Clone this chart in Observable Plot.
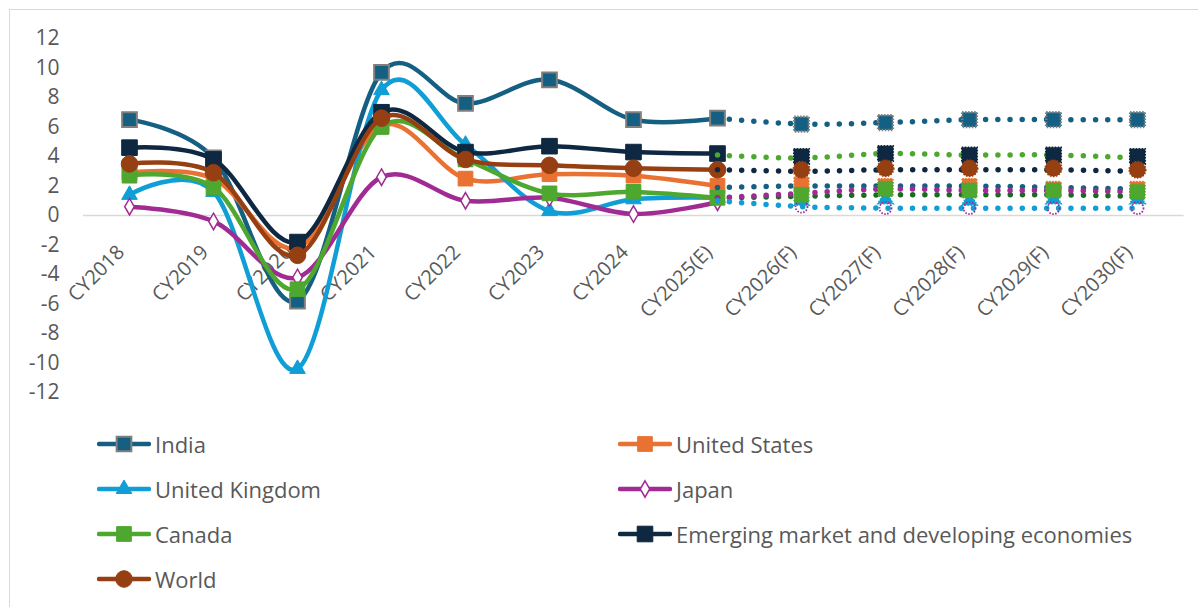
<!DOCTYPE html>
<html>
<head>
<meta charset="utf-8">
<script src="https://cdn.jsdelivr.net/npm/d3@7"></script>
<script src="https://cdn.jsdelivr.net/npm/@observablehq/plot@0.6"></script>
<style>
  html, body { margin: 0; padding: 0; background: #fff; overflow: hidden; }
  body { width: 1198px; height: 607px; position: relative; font-family: "Open Sans", "Liberation Sans", sans-serif; }
  #frame { position: absolute; left: 9px; top: 9px; width: 1300px; height: 700px; border: 1px solid #d9d9d9; box-sizing: border-box; }
  #chart { position: absolute; left: 0; top: 0; }
  #legend { position: absolute; left: 0; top: 420px; width: 1198px; height: 187px; }
  .item { position: absolute; display: flex; align-items: center; height: 30px; font-size: 22px; color: #595959; white-space: nowrap; }
  .item svg { margin-right: 4px; }
</style>
</head>
<body>
<div id="frame"></div>
<div id="chart"></div>
<div id="legend"></div>
<script>
// ---------------- data ----------------
const categories = ["CY2018","CY2019","CY2020","CY2021","CY2022","CY2023","CY2024","CY2025(E)","CY2026(F)","CY2027(F)","CY2028(F)","CY2029(F)","CY2030(F)"];
const seriesNames = ["India","United States","United Kingdom","Japan","Canada","Emerging market and developing economies","World"];

const india          = [6.5, 3.9, -5.8, 9.7, 7.6, 9.2, 6.5, 6.6, 6.2, 6.3, 6.5, 6.5, 6.5];
const unitedStates   = [2.9, 2.5, -2.2, 6.1, 2.5, 2.8, 2.7, 2.0, 2.1, 2.0, 2.0, 1.8, 1.8];
const unitedKingdom  = [1.4, 1.6, -10.4, 8.5, 4.8, 0.3, 1.1, 1.2, 1.0, 1.1, 1.0, 1.1, 1.1];
const japan          = [0.6, -0.4, -4.2, 2.6, 1.0, 1.2, 0.1, 0.9, 0.6, 0.5, 0.5, 0.5, 0.5];
const canada         = [2.7, 1.9, -5.0, 6.0, 3.8, 1.5, 1.6, 1.2, 1.4, 1.8, 1.7, 1.7, 1.6];
const emde           = [4.6, 3.8, -1.8, 7.0, 4.3, 4.7, 4.3, 4.2, 4.0, 4.2, 4.1, 4.1, 4.0];
const world          = [3.5, 2.9, -2.7, 6.6, 3.8, 3.4, 3.2, 3.1, 3.1, 3.2, 3.2, 3.2, 3.1];

// dotted forecast trend lines (CY2025(E) .. CY2030(F)), as drawn in the picture
const forecastStart = 7;
const dottedA = [6.6, 6.2, 6.3, 6.5, 6.5, 6.5];
const dottedB = [4.1, 3.9, 4.2, 4.1, 4.1, 3.9];
const dottedC = [3.1, 3.0, 3.1, 3.1, 3.1, 3.0];
const dottedD = [1.9, 2.0, 2.0, 2.0, 1.9, 1.8];
const dottedE = [1.2, 1.5, 1.8, 1.7, 1.7, 1.6];
const dottedF = [1.2, 1.3, 1.4, 1.4, 1.4, 1.3];
const dottedG = [1.0, 0.6, 0.5, 0.5, 0.5, 0.5];

const yTicks = [-12, -10, -8, -6, -4, -2, 0, 2, 4, 6, 8, 10, 12];

// ---------------- styles ----------------
const seriesValues = [india, unitedStates, unitedKingdom, japan, canada, emde, world];
const styles = [
  {color: "#156082", symbol: "square",   r: 8.3, fill: "#156082", stroke: "#7f7f7f", sw: 2},
  {color: "#E97132", symbol: "square",   r: 8.3, fill: "#E97132", stroke: "#E97132", sw: 1},
  {color: "#0F9ED5", symbol: "triangle", r: 5.8, fill: "#0F9ED5", stroke: "#0F9ED5", sw: 1},
  {color: "#A02B93", symbol: "diamond",  r: 5,   fill: "#ffffff", stroke: "#A02B93", sw: 1.5},
  {color: "#4EA72E", symbol: "square",   r: 8.3, fill: "#4EA72E", stroke: "#4EA72E", sw: 1},
  {color: "#0E2841", symbol: "square",   r: 8.8, fill: "#0E2841", stroke: "#0E2841", sw: 1},
  {color: "#953F12", symbol: "circle",   r: 8.3, fill: "#953F12", stroke: "#953F12", sw: 1}
];
const dottedSets = [
  {values: dottedA, color: "#156082"},
  {values: dottedB, color: "#4EA72E"},
  {values: dottedC, color: "#0E2841"},
  {values: dottedD, color: "#156082"},
  {values: dottedF, color: "#196B24"},
  {values: dottedE, color: "#A02B93"},
  {values: dottedG, color: "#0F9ED5"}
];

const rows = seriesNames.map((name, s) => seriesValues[s].map((v, i) => ({series: name, cat: categories[i], i, v})));
const actual = rows.map(r => r.filter(d => d.i <= forecastStart));
const forecast = rows.map(r => r.filter(d => d.i > forecastStart));
const dottedRows = dottedSets.map(ds => ds.values.map((v, k) => ({cat: categories[forecastStart + k], v})));

const FONT = '"Open Sans", "Liberation Sans", sans-serif';

const marks = [
  Plot.ruleY([0], {stroke: "#d9d9d9", strokeWidth: 1.5}),
  Plot.axisY(yTicks, {tickSize: 0, tickPadding: 24, tickFormat: d => String(d), fontSize: 21, fill: "#595959", label: null}),
  Plot.text(categories.map(c => ({c, v: 0})), {
    x: "c", y: "v", text: "c", rotate: -45, textAnchor: "end", lineAnchor: "bottom",
    dx: -4, dy: 38, fontSize: 20, fill: "#595959"
  })
];
styles.forEach((st, s) => {
  marks.push(Plot.line(actual[s], {x: "cat", y: "v", stroke: st.color, strokeWidth: 4.5, curve: "cardinal", strokeLinecap: "round", strokeLinejoin: "round"}));
  marks.push(Plot.dot(actual[s], {x: "cat", y: "v", symbol: () => st.symbol, r: st.r, fill: st.fill, stroke: st.stroke, strokeWidth: st.sw}));
});
dottedSets.forEach((ds, k) => {
  marks.push(Plot.line(dottedRows[k], {x: "cat", y: "v", stroke: ds.color, strokeWidth: 5.5, strokeDasharray: "0 12.2", strokeLinecap: "round", curve: "cardinal"}));
});
styles.forEach((st, s) => {
  const isJapan = s === 3;
  marks.push(Plot.dot(forecast[s], {
    x: "cat", y: "v",
    symbol: () => isJapan ? "circle" : st.symbol,
    r: isJapan ? 6 : st.r,
    fill: isJapan ? "none" : st.fill,
    stroke: st.stroke, strokeWidth: isJapan ? 1.8 : st.sw + 0.5,
    strokeDasharray: "1.5 1.5"
  }));
});

const plot = Plot.plot({
  width: 1198, height: 420,
  marginLeft: 83, marginRight: 14.4, marginTop: 38, marginBottom: 28,
  style: {fontFamily: FONT, background: "transparent", overflow: "visible"},
  x: {type: "point", domain: categories, padding: 0.5, axis: null},
  y: {domain: [-12, 12], axis: null},
  marks
});
document.getElementById("chart").appendChild(plot);

// ---------------- legend ----------------
const legend = document.getElementById("legend");
const symbolPath = (sym, r) => d3.symbol(sym === "square" ? d3.symbolSquare : sym === "triangle" ? d3.symbolTriangle : sym === "diamond" ? d3.symbolDiamond : d3.symbolCircle, Math.PI * r * r)();
seriesNames.forEach((name, s) => {
  const st = styles[s];
  const col = s % 2, row = Math.floor(s / 2);
  const div = document.createElement("div");
  div.className = "item";
  div.style.left = (col === 0 ? 97 : 618) + "px";
  div.style.top = (444 + 45 * row - 420 - 15) + "px";
  div.innerHTML = `<svg width="54" height="22" viewBox="0 0 54 22">
    <line x1="2" y1="11" x2="52" y2="11" stroke="${st.color}" stroke-width="4.5" stroke-linecap="round"/>
    <path transform="translate(27,11)" d="${symbolPath(st.symbol, st.r)}" fill="${st.fill}" stroke="${st.stroke}" stroke-width="${st.sw}"/>
  </svg><span>${name}</span>`;
  legend.appendChild(div);
});
</script>
</body>
</html>
